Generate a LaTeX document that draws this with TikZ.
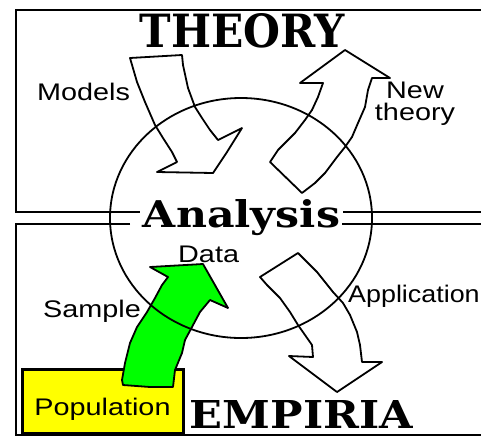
\documentclass[tikz,border=0pt]{standalone}
\usepackage{fontspec}
\usepackage{graphicx}
\usetikzlibrary{positioning}
\newfontfamily\labelfont{Liberation Sans}
\newfontfamily\headfont{DejaVu Serif}
\definecolor{popyellow}{RGB}{255,255,0}
\definecolor{datagreen}{RGB}{0,255,0}
\newcommand{\wlab}[1]{\scalebox{1.2}[1]{#1}}

\begin{document}
\begin{tikzpicture}[x=1pt, y=-1pt,
frame/.style={line width=2.4pt},
outline/.style={draw=black, line width=1.8pt, line join=round},
head/.style={inner sep=0pt, anchor=base, font=\headfont\bfseries},
lab/.style={inner sep=0pt, anchor=base west, font=\labelfont\fontsize{24}{22}\selectfont},
popbox/.style={draw=black, fill=popyellow, line width=3pt, inner sep=0pt, anchor=base,
  minimum width=161pt, text height=46pt, text depth=18pt}]
\useasboundingbox (0,0) rectangle (481,437);
% theory and empiria frames
\draw[frame] (481,10) -- (16,10) -- (16,212) -- (140,212);
\draw[frame] (343,212) -- (481,212);
\draw[frame] (130,224) -- (16,224) -- (16,435) -- (481,435);
\draw[frame] (342,224) -- (481,224);
\node[popbox, font=\labelfont\fontsize{24}{20}\selectfont] (population) at (102.5,415) {\wlab{Population}};
% big arrows
\draw[outline] (130,58) -- (182,55) -- (183,65) -- (188,88) -- (195,107) -- (202,118) -- (210,130)
  -- (218,140) -- (242,128) -- (227,152) -- (213,173) -- (157,172) -- (177,162) -- (172,152)
  -- (163,138) -- (155,125) -- (145,102) -- (137,82) -- cycle;
\draw[outline] (345,50) -- (390,78) -- (372,78) -- (368,90) -- (365,107) -- (358,123) -- (352,137)
  -- (345,147) -- (337,157) -- (325,173) -- (315,183) -- (302,193) -- (270,162) -- (278,150)
  -- (295,133) -- (305,120) -- (312,110) -- (318,97) -- (323,83) -- (300,83) -- cycle;
\draw[outline] (298,253) -- (317,272) -- (333,292) -- (343,303) -- (350,315) -- (357,332) -- (360,345)
  -- (362,362) -- (382,362) -- (337,392) -- (289,356) -- (313,357) -- (312,345) -- (305,335)
  -- (298,325) -- (290,312) -- (280,298) -- (267,285) -- (260,277) -- cycle;
\draw[outline, fill=datagreen] (150,267) -- (203,264) -- (228,308) -- (210,300) -- (200,312) -- (192,327)
  -- (185,340) -- (182,353) -- (175,370) -- (173,387) -- (150,387) -- (123,385) -- (122,380)
  -- (125,363) -- (130,343) -- (137,327) -- (147,312) -- (155,298) -- (162,285) -- (168,277) -- cycle;
% analysis circle
\draw[outline] (241,218) ellipse [x radius=131, y radius=120];
\node[head] (theory) at (242.5,47) {\resizebox{205pt}{34pt}{THEORY}};
\node[head] (analysis) at (241.5,227) {\resizebox{197pt}{28pt}{Analysis}};
\node[head] (empiria) at (301.5,428) {\resizebox{223pt}{28pt}{EMPIRIA}};
\node[lab] (models) at (37,100) {\wlab{Models}};
\node[lab, anchor=north, align=center] (newtheory) at (415,82) {\wlab{New}\\\wlab{theory}};
\node[lab] (data) at (178,262) {\wlab{Data}};
\node[lab] (sample) at (43,317) {\wlab{Sample}};
\node[lab] (application) at (348,302) {\scalebox{1.12}[1]{Application}};
\end{tikzpicture}
\end{document}
